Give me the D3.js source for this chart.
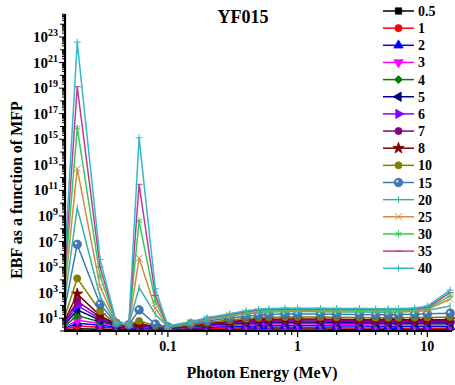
<!DOCTYPE html>
<html>
<head>
<meta charset="utf-8">
<script src="https://cdn.jsdelivr.net/npm/d3@7"></script>
<style>
  body { margin: 0; background: #fff; }
</style>
</head>
<body>
<div id="chart"></div>
<script>
// Photon energies (MeV)
const energy = [0.015, 0.02, 0.03, 0.04, 0.05, 0.06, 0.08, 0.1, 0.15, 0.2, 0.3, 0.4, 0.5, 0.6, 0.8, 1, 1.5, 2, 3, 4, 5, 6, 8, 10, 15];

// penetration depths (mfp)
const mfpLabels = ['0.5', '1', '2', '3', '4', '5', '6', '7', '8', '10', '15', '20', '25', '30', '35', '40'];

// EBF values, one array per depth
const ebf0_5 = [1.1, 1.5, 1.4, 1.3, 1.25, 1.2, 1.2, 1.2, 1.3, 1.35, 1.4, 1.45, 1.45, 1.45, 1.45, 1.45, 1.45, 1.4, 1.4, 1.35, 1.35, 1.35, 1.3, 1.3, 1.3];
const ebf1 = [1.2, 2.5, 2.0, 1.7, 1.5, 1.5, 1.4, 1.35, 1.5, 1.6, 1.75, 1.8, 1.85, 1.85, 1.85, 1.85, 1.8, 1.8, 1.75, 1.7, 1.7, 1.65, 1.6, 1.6, 1.55];
const ebf2 = [1.3, 4, 2.8, 2.1, 1.8, 1.9, 1.6, 1.45, 1.7, 1.9, 2.2, 2.4, 2.5, 2.55, 2.6, 2.6, 2.55, 2.5, 2.45, 2.4, 2.35, 2.3, 2.25, 2.2, 2.15];
const ebf3 = [1.35, 7, 3.8, 2.6, 2.1, 2.3, 1.8, 1.5, 1.9, 2.3, 2.8, 3.2, 3.4, 3.5, 3.55, 3.55, 3.5, 3.4, 3.3, 3.2, 3.15, 3.1, 3.0, 3.0, 2.95];
const ebf4 = [1.4, 16, 5, 3.0, 2.3, 2.6, 1.9, 1.55, 2.0, 2.6, 3.3, 3.8, 4.1, 4.2, 4.3, 4.3, 4.2, 4.1, 4.0, 3.9, 3.8, 3.75, 3.7, 3.65, 3.6];
const ebf5 = [1.45, 45, 7, 3.2, 2.5, 2.8, 2.0, 1.6, 2.2, 2.9, 3.8, 4.4, 4.8, 5.0, 5.1, 5.1, 5.0, 4.9, 4.7, 4.6, 4.5, 4.5, 4.4, 4.4, 4.4];
const ebf6 = [1.5, 100, 9, 3.4, 2.6, 3.0, 2.1, 1.65, 2.3, 3.2, 4.3, 5.1, 5.6, 5.9, 6.0, 6.0, 5.9, 5.8, 5.6, 5.4, 5.3, 5.3, 5.2, 5.2, 5.3];
const ebf7 = [1.55, 220, 12, 3.5, 2.7, 3.3, 2.2, 1.7, 2.5, 3.5, 4.9, 5.9, 6.6, 7.0, 7.2, 7.2, 7.1, 6.9, 6.6, 6.4, 6.3, 6.3, 6.2, 6.3, 6.4];
const ebf8 = [1.6, 800, 16, 3.6, 2.8, 3.6, 2.3, 1.75, 2.6, 3.8, 5.6, 6.9, 7.8, 8.3, 8.6, 8.7, 8.5, 8.3, 7.9, 7.7, 7.6, 7.6, 7.5, 7.7, 8.0];
const ebf10 = [1.7, 1.3e4, 37, 3.7, 2.9, 6, 2.6, 1.85, 3.0, 4.6, 7.2, 9.4, 10.8, 11.7, 12.3, 12.6, 12.4, 12.0, 11.4, 11.1, 11.0, 11.0, 11.2, 11.6, 12.5];
const ebf15 = [1.8, 6e6, 125, 3.9, 3.0, 45, 3.5, 2.0, 3.6, 6.0, 10.5, 14.5, 17.5, 19.5, 21, 21.5, 21, 20.5, 19.5, 19, 19, 19.3, 20.5, 22, 25];
const ebf20 = [1.9, 4.5e9, 500, 4.1, 3.1, 2500, 20, 2.1, 4.2, 7.5, 14, 22, 27, 30, 32, 33, 32, 31, 30, 29, 29.5, 30.5, 33, 40, 90];
const ebf25 = [2.0, 5e12, 3000, 4.3, 3.2, 5e5, 60, 2.2, 4.5, 8.5, 16, 26, 33, 37, 39, 40, 39, 38, 37, 36, 36.5, 37.5, 41, 48, 320];
const ebf30 = [2.1, 8e15, 2e4, 4.5, 3.3, 4e8, 200, 2.3, 4.8, 9.5, 18, 30, 39, 44, 46, 47, 46, 45, 44, 43, 43.5, 45, 49, 56, 560];
const ebf35 = [2.2, 1.3e19, 1e5, 4.7, 3.4, 3e11, 600, 2.4, 5.0, 10, 20, 34, 45, 50, 53, 54, 53, 52, 51, 49, 49.5, 51, 56, 70, 1000];
const ebf40 = [2.3, 4e22, 4e5, 4.9, 3.5, 1.3e15, 2000, 2.5, 5.2, 11, 22, 38, 50, 56, 59, 60, 59, 58, 57, 54, 54, 56, 63, 90, 1600];

const seriesValues = [ebf0_5, ebf1, ebf2, ebf3, ebf4, ebf5, ebf6, ebf7, ebf8, ebf10, ebf15, ebf20, ebf25, ebf30, ebf35, ebf40];

// tick values
const xTickLabels = [0.1, 1, 10];
const yTickExponents = [1, 3, 5, 7, 9, 11, 13, 15, 17, 19, 21, 23];

// styles
const colors = ['#000000', '#ff0000', '#0000ff', '#ff00ff', '#008000', '#000080', '#8000ff', '#800080',
  '#800000', '#808000', '#4077b5', '#3cb0a4', '#cf8a46', '#33cc55', '#c43a92', '#33b9c9'];
const markers = ['square', 'circle', 'triUp', 'triDown', 'diamond', 'triLeft', 'triRight', 'circle',
  'star', 'circle', 'ball', 'vbar', 'cross', 'aster', 'hbar', 'plus'];

const width = 455, height = 385;
const mLeft = 65, mRight = 452, mTop = 14, mBottom = 331;
const serif = "'Liberation Serif', 'Times New Roman', 'DejaVu Serif', serif";

const svg = d3.select('#chart').append('svg')
  .attr('width', width)
  .attr('height', height)
  .attr('font-family', serif)
  .attr('font-weight', 'bold');

const x = d3.scaleLog().domain([0.0161, 15.5]).range([mLeft, mRight]);
const y = d3.scaleLog().domain([1, Math.pow(10, 24.8)]).range([mBottom, mTop]);

svg.append('defs').append('clipPath').attr('id', 'plotClip')
  .append('rect').attr('x', mLeft).attr('y', 0).attr('width', width - mLeft).attr('height', mBottom);

// marker drawing
function drawMarker(g, type, color) {
  const s = 3.5;
  const sym = (t, size, rot) => g.append('path')
    .attr('d', d3.symbol().type(t).size(size)())
    .attr('transform', rot ? `rotate(${rot})` : null)
    .attr('fill', color).attr('stroke', color).attr('stroke-width', 0.8);
  switch (type) {
    case 'square': sym(d3.symbolSquare, 40); break;
    case 'circle': sym(d3.symbolCircle, 40); break;
    case 'triUp': sym(d3.symbolTriangle, 38); break;
    case 'triDown': sym(d3.symbolTriangle, 38, 180); break;
    case 'triLeft': sym(d3.symbolTriangle, 38, -90); break;
    case 'triRight': sym(d3.symbolTriangle, 38, 90); break;
    case 'diamond': sym(d3.symbolSquare, 32, 45); break;
    case 'star': sym(d3.symbolStar, 40); break;
    case 'ball':
      g.append('circle').attr('r', 4.3).attr('fill', color).attr('stroke', '#2d5a8e').attr('stroke-width', 0.6);
      g.append('circle').attr('r', 1.3).attr('cx', -1.2).attr('cy', -1.2).attr('fill', '#cfe0f2');
      break;
    case 'vbar':
      g.append('line').attr('y1', -s).attr('y2', s).attr('stroke', color).attr('stroke-width', 1);
      break;
    case 'hbar':
      g.append('line').attr('x1', -s).attr('x2', s).attr('stroke', color).attr('stroke-width', 1);
      break;
    case 'cross':
      g.append('path').attr('d', `M${-s},${-s}L${s},${s}M${-s},${s}L${s},${-s}`).attr('stroke', color).attr('stroke-width', 1);
      break;
    case 'plus':
      g.append('path').attr('d', `M${-s},0L${s},0M0,${-s}L0,${s}`).attr('stroke', color).attr('stroke-width', 1);
      break;
    case 'aster':
      g.append('path').attr('d', `M0,${-s}L0,${s}M${-s * 0.87},${-s / 2}L${s * 0.87},${s / 2}M${-s * 0.87},${s / 2}L${s * 0.87},${-s / 2}`)
        .attr('stroke', color).attr('stroke-width', 1);
      break;
  }
}

// lines and markers
const plot = svg.append('g').attr('clip-path', 'url(#plotClip)');
const line = d3.line().x(d => x(d[0])).y(d => y(d[1]));

seriesValues.forEach((vals, i) => {
  const pts = energy.map((e, j) => [e, vals[j]]);
  plot.append('path')
    .datum(pts)
    .attr('d', line)
    .attr('fill', 'none')
    .attr('stroke', colors[i])
    .attr('stroke-width', 1.5);
  pts.forEach(p => {
    const g = plot.append('g').attr('transform', `translate(${x(p[0])},${y(p[1])})`);
    drawMarker(g, markers[i], colors[i]);
  });
});

// x axis
const xMinor = [];
for (let k = -2; k <= 1; k++) {
  for (let m = 1; m <= 9; m++) {
    const v = +(m * Math.pow(10, k)).toPrecision(6);
    if (v >= x.domain()[0] && v <= x.domain()[1]) xMinor.push(v);
  }
}
const xAxis = svg.append('g');
xAxis.selectAll('line.tick')
  .data(xMinor)
  .join('line')
  .attr('x1', d => x(d)).attr('x2', d => x(d))
  .attr('y1', mBottom).attr('y2', d => mBottom + (xTickLabels.includes(d) ? 6 : 4))
  .attr('stroke', '#000').attr('stroke-width', 1.2);
xAxis.append('line')
  .attr('x1', mLeft - 1).attr('x2', mRight).attr('y1', mBottom).attr('y2', mBottom)
  .attr('stroke', '#000').attr('stroke-width', 2.2);
xAxis.selectAll('text')
  .data(xTickLabels)
  .join('text')
  .attr('x', d => x(d)).attr('y', mBottom + 20)
  .attr('text-anchor', 'middle')
  .attr('font-size', 14)
  .text(d => d);

// y axis
const yMinor = [];
for (let k = 0; k <= 24; k++) {
  for (let m = 1; m <= 9; m++) {
    const v = m * Math.pow(10, k);
    if (v <= y.domain()[1]) yMinor.push({ v: v, major: m === 1 && yTickExponents.includes(k), dec: m === 1 });
  }
}
const yAxis = svg.append('g');
yAxis.selectAll('line.tick')
  .data(yMinor)
  .join('line')
  .attr('x1', d => mLeft - (d.major ? 6 : d.dec ? 5 : 3)).attr('x2', mLeft)
  .attr('y1', d => y(d.v)).attr('y2', d => y(d.v))
  .attr('stroke', '#000').attr('stroke-width', 1);
yAxis.append('line')
  .attr('x1', mLeft).attr('x2', mLeft).attr('y1', mTop).attr('y2', mBottom + 1)
  .attr('stroke', '#000').attr('stroke-width', 2.2);
const yLab = yAxis.selectAll('text')
  .data(yTickExponents)
  .join('text')
  .attr('x', mLeft - 7).attr('y', d => y(Math.pow(10, d)) + 5)
  .attr('text-anchor', 'end')
  .attr('font-size', 15);
yLab.append('tspan').text('10');
yLab.append('tspan').attr('dy', -6).attr('font-size', 10).text(d => d);

// titles
svg.append('text')
  .attr('x', 243).attr('y', 23)
  .attr('text-anchor', 'middle')
  .attr('font-size', 18)
  .text('YF015');
svg.append('text')
  .attr('x', 262).attr('y', 378)
  .attr('text-anchor', 'middle')
  .attr('font-size', 16)
  .text('Photon Energy (MeV)');
svg.append('text')
  .attr('transform', 'translate(22,190) rotate(-90)')
  .attr('text-anchor', 'middle')
  .attr('font-size', 16)
  .text('EBF as a function of MFP');

// legend
const legend = svg.append('g');
mfpLabels.forEach((lab, i) => {
  const ly = 11 + i * 17.15;
  const g = legend.append('g').attr('transform', `translate(0,${ly})`);
  g.append('line').attr('x1', 383).attr('x2', 414).attr('y1', 0).attr('y2', 0)
    .attr('stroke', colors[i]).attr('stroke-width', 1.5);
  drawMarker(g.append('g').attr('transform', 'translate(398.5,0)'), markers[i], colors[i]);
  g.append('text').attr('x', 418).attr('y', 5).attr('font-size', 14).text(lab);
});
</script>
</body>
</html>
